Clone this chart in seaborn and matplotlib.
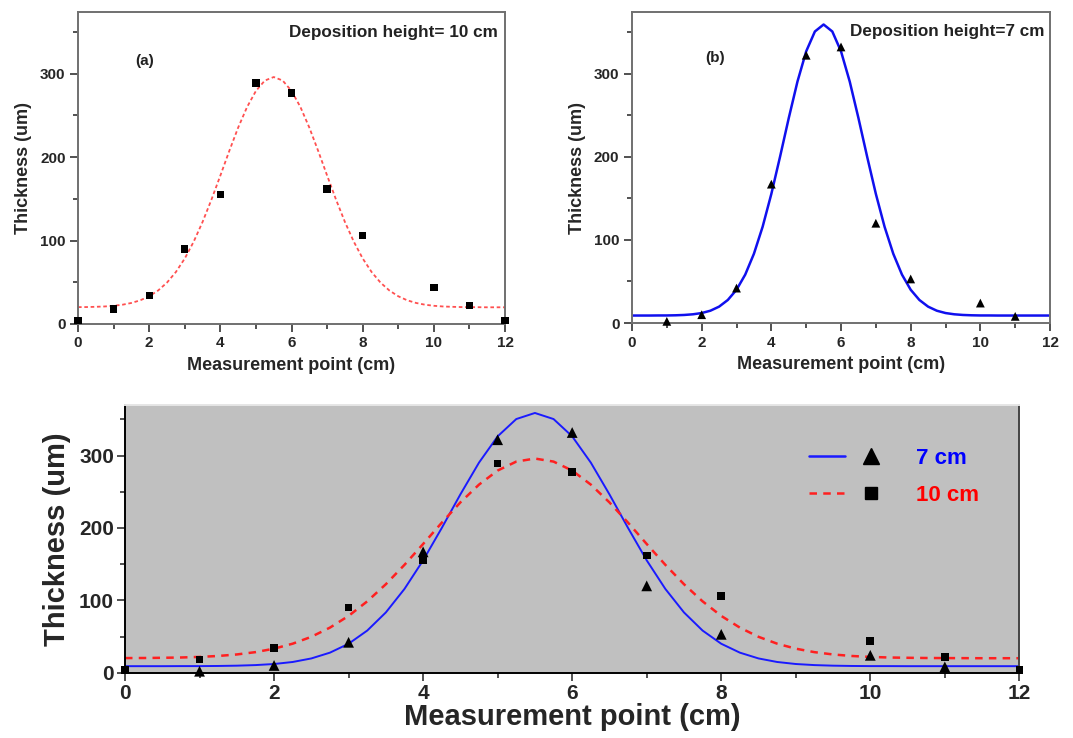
import numpy as np
import pandas as pd
import matplotlib
matplotlib.use("Agg")
import matplotlib.pyplot as plt
import seaborn as sns
from matplotlib.lines import Line2D
from matplotlib.legend_handler import HandlerTuple
from matplotlib.ticker import MultipleLocator

sns.set_style("white")
plt.rcParams["font.family"] = ["Liberation Sans", "DejaVu Sans"]
plt.rcParams["font.weight"] = "bold"

# measured points, deposition height 10 cm (squares)
pos_10 = [0, 1, 2, 3, 4, 5, 6, 7, 8, 10, 11, 12]
thk_10 = [4, 18, 34, 90, 155, 289, 277, 162, 106, 44, 22, 4]

# measured points, deposition height 7 cm (triangles)
pos_7 = [1, 2, 3, 4, 5, 6, 7, 8, 10, 11]
thk_7 = [2, 10, 42, 167, 322, 332, 120, 53, 24, 8]

# fitted curves every 0.25 cm
fit_x = [i * 0.25 for i in range(49)]
fit_10 = [20.2, 20.3, 20.6, 21.0, 21.8, 23.1, 25.2, 28.4, 33.2, 40.1, 49.6, 62.3,
          78.5, 98.6, 122.3, 149.1, 177.9, 207.3, 235.4, 260.0, 279.4, 291.8, 296.0,
          291.8, 279.4, 260.0, 235.4, 207.3, 177.9, 149.1, 122.3, 98.6, 78.5, 62.3,
          49.6, 40.1, 33.2, 28.4, 25.2, 23.1, 21.8, 21.0, 20.6, 20.3, 20.2, 20.1,
          20.0, 20.0, 20.0]
fit_7 = [9.0, 9.0, 9.0, 9.1, 9.1, 9.3, 9.7, 10.5, 12.0, 14.8, 19.7, 27.7,
         40.0, 58.2, 83.3, 115.8, 155.3, 200.0, 246.5, 290.4, 326.7, 350.6, 359.0,
         350.6, 326.7, 290.4, 246.5, 200.0, 155.3, 115.8, 83.3, 58.2, 40.0, 27.7,
         19.7, 14.8, 12.0, 10.5, 9.7, 9.3, 9.1, 9.1, 9.0, 9.0, 9.0, 9.0,
         9.0, 9.0, 9.0]

fig = plt.figure(figsize=(10.73, 7.38), dpi=100)
ax_a = fig.add_axes([0.0727, 0.561, 0.398, 0.4228])
ax_b = fig.add_axes([0.589, 0.5623, 0.3896, 0.4214])
ax_c = fig.add_axes([0.1165, 0.0885, 0.8335, 0.3627])


def style_axes(ax, tick_size, label_size, ymax, frame="#707070", xpad=5, tpad=3):
    ax.set_xlim(0, 12)
    ax.set_ylim(0, ymax)
    ax.xaxis.set_major_locator(MultipleLocator(2))
    ax.xaxis.set_minor_locator(MultipleLocator(1))
    ax.yaxis.set_major_locator(MultipleLocator(100))
    ax.yaxis.set_minor_locator(MultipleLocator(50))
    ax.tick_params(which="both", direction="out", bottom=True, left=True,
                   top=False, right=False, color="#333333", width=1.2)
    ax.tick_params(which="major", length=6, labelsize=tick_size, pad=tpad)
    ax.tick_params(which="minor", length=3.5)
    for lbl in ax.get_xticklabels() + ax.get_yticklabels():
        lbl.set_fontweight("bold")
    for s in ax.spines.values():
        s.set_color(frame)
        s.set_linewidth(1.4)
    ax.set_xlabel("Measurement point (cm)", fontsize=label_size, fontweight="bold", labelpad=xpad)
    ax.set_ylabel("Thickness (um)", fontsize=label_size, fontweight="bold", labelpad=6)


# (a) 10 cm
sns.lineplot(x=fit_x, y=fit_10, ax=ax_a, color="#ff5050", linestyle=(0, (2, 1.5)), linewidth=1.3)
sns.scatterplot(x=pos_10, y=thk_10, ax=ax_a, marker="s", color="black", s=28,
                edgecolor="none", clip_on=False, zorder=5)
style_axes(ax_a, 11, 13, 374)
ax_a.text(0.984, 0.933, "Deposition height= 10 cm", transform=ax_a.transAxes,
          ha="right", va="center", fontsize=12.3, fontweight="bold", color="#222222")
ax_a.text(0.157, 0.843, "(a)", transform=ax_a.transAxes, ha="center", va="center",
          fontsize=11, fontweight="bold", color="#222222")

# (b) 7 cm
sns.lineplot(x=fit_x, y=fit_7, ax=ax_b, color="#1010ee", linewidth=1.8)
sns.scatterplot(x=pos_7, y=thk_7, ax=ax_b, marker="^", color="black", s=40,
                edgecolor="none", clip_on=False, zorder=5)
style_axes(ax_b, 11, 13, 374)
ax_b.text(0.986, 0.936, "Deposition height=7 cm", transform=ax_b.transAxes,
          ha="right", va="center", fontsize=12.3, fontweight="bold", color="#222222")
ax_b.text(0.199, 0.852, "(b)", transform=ax_b.transAxes, ha="center", va="center",
          fontsize=11, fontweight="bold", color="#222222")

# combined panel
ax_c.set_facecolor("#c0c0c0")
sns.lineplot(x=fit_x, y=fit_7, ax=ax_c, color="#1a1aff", linewidth=1.4)
sns.lineplot(x=fit_x, y=fit_10, ax=ax_c, color="#ff2020", linestyle=(0, (3, 2.5)), linewidth=1.8)
sns.scatterplot(x=pos_7, y=thk_7, ax=ax_c, marker="^", color="black", s=60,
                edgecolor="none", clip_on=False, zorder=5)
sns.scatterplot(x=pos_10, y=thk_10, ax=ax_c, marker="s", color="black", s=30,
                edgecolor="none", clip_on=False, zorder=5)
style_axes(ax_c, 15, 21, 370, frame="black", xpad=0, tpad=2)
ax_c.spines["top"].set_color("#e6e6e6")
ax_c.spines["right"].set_color("#444444")

h7 = (Line2D([], [], color="#1a1aff", linewidth=1.8),
      Line2D([], [], color="black", marker="^", linestyle="none", markersize=12))
h10 = (Line2D([], [], color="#ff2020", linewidth=1.8, linestyle=(0, (3, 2.5))),
       Line2D([], [], color="black", marker="s", linestyle="none", markersize=9))
leg = ax_c.legend(handles=[h7, h10], labels=["7 cm", "10 cm"],
                  handler_map={tuple: HandlerTuple(ndivide=2, pad=0.4)},
                  loc="center left", bbox_to_anchor=(0.765, 0.731), frameon=False,
                  fontsize=16, handlelength=3.6, handletextpad=1.2, labelspacing=0.7,
                  borderpad=0, borderaxespad=0)
for txt, c in zip(leg.get_texts(), ["#0000ff", "#ff0000"]):
    txt.set_color(c)
    txt.set_fontweight("bold")

fig.savefig("out.png", dpi=100, facecolor="white")
